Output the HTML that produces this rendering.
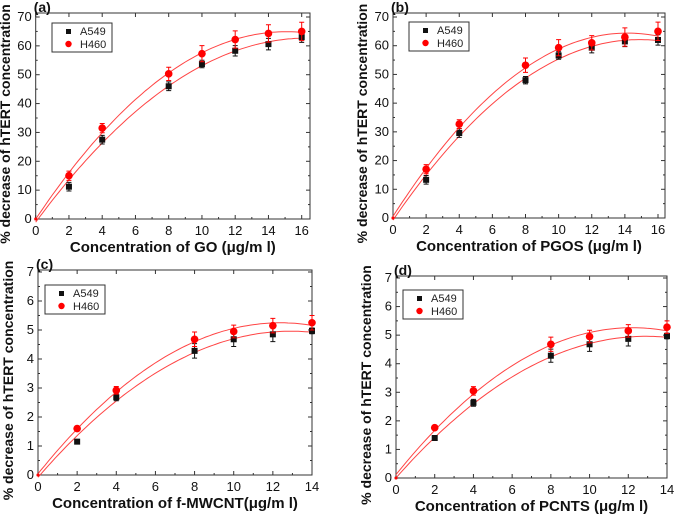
<!DOCTYPE html>
<html><head><meta charset="utf-8"><style>
body{margin:0;background:#fff;}
svg{display:block;font-family:"Liberation Sans",Arial,sans-serif;}
</style></head><body>
<svg id="fig" width="675" height="516" viewBox="0 0 675 516"></svg>
<script>
const xA=[0,2,4,8,10,12,14,16];
const aA549=[0,11.2,27.5,46,53.7,58.3,60.6,63];
const aH460=[0,15,31.5,50.3,57.3,62.2,64.3,65];
const aErrA=[0,1.5,1.5,1.5,1.3,1.8,2,1.8];
const aErrH=[0,1.6,1.6,2.3,2.8,3,3,3.2];
const bA549=[0,13.3,29.6,48,56.6,59.3,61.5,62];
const bH460=[0,17,32.7,53.2,59.3,61,63,65];
const bErrA=[0,1.5,1.5,1.3,1.3,1.8,1.8,1.8];
const bErrH=[0,1.6,1.5,2.5,2.8,2.5,3.2,3.2];
const xC=[0,2,4,8,10,12,14];
const cA549=[0,1.15,2.68,4.28,4.68,4.85,4.97];
const cH460=[0,1.6,2.92,4.68,4.95,5.15,5.25];
const cErrA=[0,0.05,0.12,0.25,0.25,0.25,0.1];
const cErrH=[0,0.05,0.13,0.25,0.22,0.25,0.25];
const dA549=[0,1.4,2.63,4.28,4.68,4.87,4.97];
const dH460=[0,1.76,3.05,4.68,4.95,5.15,5.28];
const dErrA=[0,0.04,0.12,0.23,0.25,0.25,0.1];
const dErrH=[0,0.05,0.15,0.25,0.22,0.22,0.22];
const yTicks7=[0,10,20,30,40,50,60,70];
const yTicksS=[0,1,2,3,4,5,6,7];
const xTicks16=[0,2,4,6,8,10,12,14,16];
const xTicks14=[0,2,4,6,8,10,12,14];

const NS="http://www.w3.org/2000/svg";
const svg=document.getElementById('fig');
function mk(tag,attrs,parent,text){const e=document.createElementNS(NS,tag);for(const k in attrs)e.setAttribute(k,attrs[k]);if(text!==undefined)e.textContent=text;(parent||svg).appendChild(e);return e;}
function quadFit(xs,ys){let S=[0,0,0,0,0],T=[0,0,0];for(let i=0;i<xs.length;i++){let p=1;for(let k=0;k<5;k++){S[k]+=p;if(k<3)T[k]+=p*ys[i];p*=xs[i];}}
 const M=[[S[0],S[1],S[2],T[0]],[S[1],S[2],S[3],T[1]],[S[2],S[3],S[4],T[2]]];
 for(let i=0;i<3;i++){for(let j=i+1;j<3;j++){const f=M[j][i]/M[i][i];for(let k=i;k<4;k++)M[j][k]-=f*M[i][k];}}
 const c=[0,0,0];for(let i=2;i>=0;i--){let s=M[i][3];for(let k=i+1;k<3;k++)s-=M[i][k]*c[k];c[i]=s/M[i][i];}return c;}
function panel(o){
 const g=mk('g',{},svg);
 const X=v=>o.x0+(v-0)*(o.x1-o.x0)/o.xmaxT;const Y=v=>o.y0-(v)*(o.y0-o.y1)/o.ymaxT;
 const fr=mk('rect',{x:o.x0,y:o.top,width:o.right-o.x0,height:o.y0-o.top,fill:'none',stroke:'#333','stroke-width':1},g);
 
 o.xt.forEach((t,i)=>{const px=X(t);mk('line',{x1:px,y1:o.y0,x2:px,y2:o.y0-4,stroke:'#333'},g);mk('line',{x1:px,y1:o.top,x2:px,y2:o.top+4,stroke:'#333'},g);
  if(i<o.xt.length-1){const m=X(t+(o.xt[1]-o.xt[0])/2);mk('line',{x1:m,y1:o.y0,x2:m,y2:o.y0-2,stroke:'#333'},g);}
  const tl=mk('text',{x:px,y:o.y0+16,'text-anchor':'middle','font-size':13,fill:'#111'},g,t);});
 o.yt.forEach((t,i)=>{const py=Y(t);mk('line',{x1:o.x0,y1:py,x2:o.x0+4,y2:py,stroke:'#333'},g);mk('line',{x1:o.right,y1:py,x2:o.right-4,y2:py,stroke:'#333'},g);
  if(i<o.yt.length-1){const m=Y(t+(o.yt[1]-o.yt[0])/2);mk('line',{x1:o.x0,y1:m,x2:o.x0+2,y2:m,stroke:'#333'},g);mk('line',{x1:o.right,y1:m,x2:o.right-2,y2:m,stroke:'#333'},g);}
  const tl=mk('text',{x:o.x0-4,y:py+4,'text-anchor':'end','font-size':13,fill:'#111'},g,t);});
 const xt=mk('text',{x:(o.x0+o.right)/2,y:o.y0+33,'text-anchor':'middle','font-size':15,'font-weight':'bold',fill:'#111'},g,o.xtitle);
 const yc=(o.top+o.y0)/2+8;const yt=mk('text',{x:o.ytx,y:yc,transform:`rotate(-90 ${o.ytx} ${yc})`,'text-anchor':'middle','font-size':14,'font-weight':'bold',fill:'#111'},g,'% decrease of hTERT concentration');
 const lb=mk('text',{x:o.x0-2,y:o.top-1,'font-size':14,'font-weight':'bold',fill:'#111'},g,o.label);
 [[o.A,o.eA,'#111','sq'],[o.H,o.eH,'#f00','ci']].forEach(([ys,es,col,sh])=>{
  const c=quadFit(o.xs,ys);let d='';const xm=o.xs[o.xs.length-1];
  for(let i=0;i<=80;i++){const v=xm*i/80;const yv=c[0]+c[1]*v+c[2]*v*v;d+=(i?'L':'M')+X(v).toFixed(1)+','+Y(yv).toFixed(1);}
  const fl=mk('path',{d:d,fill:'none',stroke:'#f44','stroke-width':1},g);
  o.xs.forEach((xv,i)=>{const px=X(xv),py=Y(ys[i]);
   if(es[i]>0){const t=Y(ys[i]+es[i]),b=Y(ys[i]-es[i]);mk('path',{d:`M${px},${t}L${px},${b}M${px-2.5},${t}L${px+2.5},${t}M${px-2.5},${b}L${px+2.5},${b}`,stroke:col,'stroke-width':1},g);}
   const sc=xv===0?0.4:1;
   let m;if(sh==='sq'){m=mk('rect',{x:px-3*sc,y:py-3*sc,width:6*sc,height:6*sc,fill:col},g);}
   else{m=mk('circle',{cx:px,cy:py,r:3.8*sc,fill:col},g);}
   });
 });
 const lg=mk('g',{},g);
 mk('rect',{x:o.lx,y:o.ly,width:60,height:29,fill:'#fff',stroke:'#333'},lg);
 mk('rect',{x:o.lx+14,y:o.ly+6,width:5,height:5,fill:'#111'},lg);mk('text',{x:o.lx+28,y:o.ly+12,'font-size':11,fill:'#222'},lg,'A549');
 mk('circle',{cx:o.lx+16.5,cy:o.ly+21,r:3.2,fill:'#f00'},lg);mk('text',{x:o.lx+28,y:o.ly+25,'font-size':11,fill:'#222'},lg,'H460');
}
panel({name:'panel-a-go',label:'(a)',x0:35.7,x1:301.7,xmaxT:16,right:310,y0:219,y1:17,ymaxT:70,top:13,xt:xTicks16,yt:yTicks7,xs:xA,A:aA549,H:aH460,eA:aErrA,eH:aErrH,xtitle:'Concentration of GO (\u03bcg/m l)',ytx:10,lx:52,ly:23});
panel({name:'panel-b-pgos',label:'(b)',x0:393,x1:658,xmaxT:16,right:665,y0:218,y1:17,ymaxT:70,top:13,xt:xTicks16,yt:yTicks7,xs:xA,A:bA549,H:bH460,eA:bErrA,eH:bErrH,xtitle:'Concentration of PGOS (\u03bcg/m l)',ytx:367,lx:409,ly:22});
panel({name:'panel-c-fmwcnt',label:'(c)',x0:38,x1:312,xmaxT:14,right:312,y0:475,y1:272,ymaxT:7,top:270,xt:xTicks14,yt:yTicksS,xs:xC,A:cA549,H:cH460,eA:cErrA,eH:cErrH,xtitle:'Concentration of f-MWCNT(\u03bcg/m l)',ytx:13,lx:45,ly:285});
panel({name:'panel-d-pcnts',label:'(d)',x0:396,x1:667,xmaxT:14,right:667,y0:478,y1:278,ymaxT:7,top:276,xt:xTicks14,yt:yTicksS,xs:xC,A:dA549,H:dH460,eA:dErrA,eH:dErrH,xtitle:'Concentration of PCNTS (\u03bcg/m l)',ytx:371,lx:403,ly:290});
</script>
</body></html>
